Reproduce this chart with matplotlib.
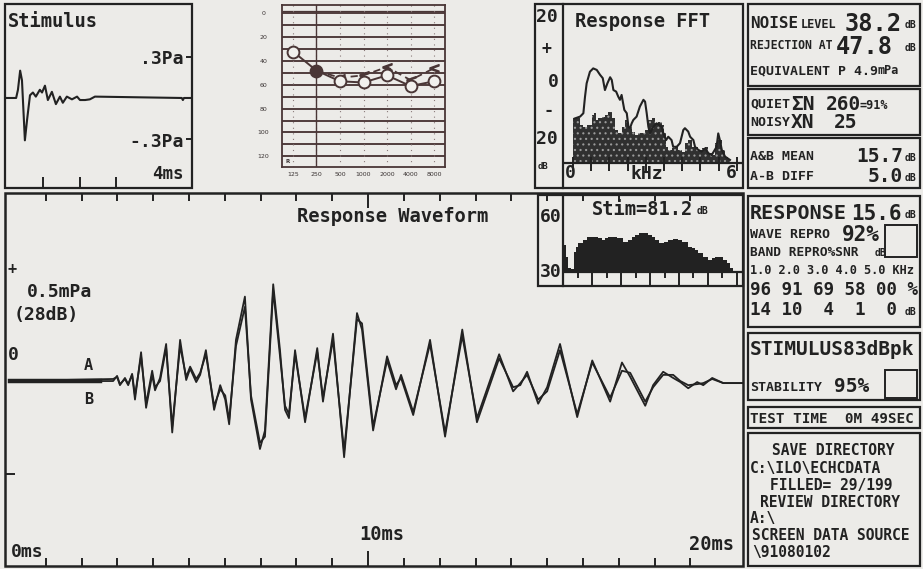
import matplotlib
matplotlib.use('Agg')
import matplotlib.pyplot as plt
import numpy as np
from matplotlib.patches import Rectangle
from matplotlib.ticker import NullLocator

# ---------------- data ----------------
# Stimulus waveform (ms, Pa)
stim_t = [0.0, 0.25, 0.30, 0.36, 0.41, 0.49, 0.55, 0.63, 0.71, 0.79, 0.90, 0.96, 1.04, 1.12, 1.23,
          1.34, 1.45, 1.53, 1.64, 1.78, 1.92, 2.00, 2.14, 2.27, 2.41, 4.79, 4.82, 4.85, 5.07]
stim_p = [0.0, 0.0, 0.06, 0.20, 0.13, -0.31, -0.16, 0.02, 0.04, 0.01, 0.06, 0.04, 0.09, -0.015, 0.045,
          -0.045, 0.01, -0.035, 0.01, -0.01, 0.01, -0.015, -0.015, -0.01, 0.01, 0.0, -0.015, 0.0, 0.0]

# Audiogram (Hz, dB HL)
aud_freqs = [125, 250, 500, 1000, 2000, 4000, 8000]
aud_labels = ['125', '250', '500', '1000', '2000', '4000', '8000']
air_db = [32, 48, 57, 58, 52, 61, 57]
bone_f = [250, 500, 1000, 2000, 4000, 8000]
bone_db = [48, 54, 52, 45, 56, 46]
aud_ylabels = [0, 20, 40, 60, 80, 100, 120]

# Response FFT (kHz, dB)
resp_f = [0.07, 0.26, 0.38, 0.44, 0.50, 0.62, 0.74, 0.87, 0.99, 1.09, 1.17, 1.26, 1.36, 1.42, 1.48,
          1.58, 1.66, 1.72, 1.78, 1.88, 1.97, 2.03, 2.09, 2.15, 2.21, 2.33, 2.45, 2.58, 2.64, 2.70,
          2.76, 2.82, 2.88, 2.94, 3.06, 3.25, 3.31, 3.41, 3.49, 3.61, 3.67, 3.80, 3.92, 4.04, 4.10,
          4.22, 4.29, 4.41, 4.47, 4.59, 4.71, 4.84, 4.96, 5.08, 5.26, 5.32, 5.38, 5.45, 5.57, 5.75]
resp_db = [-13.6, -13.0, -11.9, -6.5, -2.1, 1.7, 2.8, 2.3, 0.7, -0.4, -4.3, -2.1, -0.1, -1.0, -4.3,
           -4.8, -6.5, -7.5, -5.9, -10.8, -11.9, -16.3, -16.8, -15.2, -14.1, -13.0, -9.7, -7.5, -8.1, -11.9,
           -16.3, -18.5, -17.4, -16.3, -15.2, -16.3, -18.5, -20.7, -19.6, -20.7, -22.9, -22.9, -21.7, -17.4, -16.8,
           -17.9, -19.6, -20.7, -22.9, -23.9, -24.5, -23.4, -25.0, -25.6, -22.9, -18.5, -20.7, -23.9, -26.1, -27.2]
noise_f = [0.01, 0.20, 0.32, 0.44, 0.62, 0.74, 0.81, 0.87, 0.99, 1.11, 1.23, 1.36, 1.48, 1.60, 1.72,
           1.84, 1.97, 2.09, 2.21, 2.33, 2.45, 2.58, 2.70, 2.82, 2.94, 3.06, 3.19, 3.31, 3.37, 3.43,
           3.55, 3.67, 3.80, 3.92, 4.04, 4.16, 4.29, 4.41, 4.53, 4.65, 4.77, 4.90, 5.02, 5.14, 5.26,
           5.38, 5.51, 5.63, 5.75]
noise_db = [-13.6, -13.6, -15.7, -16.3, -15.7, -12.5, -11.9, -14.1, -13.6, -13.0, -12.5, -11.4, -13.6, -17.4, -18.5,
            -16.3, -14.1, -16.3, -17.9, -19.0, -18.5, -18.5, -17.4, -14.1, -13.6, -15.2, -14.7, -15.7, -18.5, -22.9,
            -23.9, -23.4, -22.9, -23.9, -24.5, -21.7, -20.7, -22.9, -22.9, -23.9, -23.4, -22.9, -25.0, -25.6, -21.7,
            -20.7, -23.9, -26.1, -27.2]

# Stimulus spectrum (kHz, dB)
sspec_f = [-0.39, -0.29, -0.23, -0.17, 0.01, 0.07, 0.14, 0.26, 0.44, 0.62, 0.87, 0.99, 1.11, 1.23, 1.36,
           1.54, 1.72, 1.97, 2.09, 2.21, 2.33, 2.52, 2.70, 2.82, 2.94, 3.06, 3.25, 3.43, 3.55, 3.74,
           3.92, 4.10, 4.29, 4.41, 4.53, 4.65, 4.84, 5.02, 5.14, 5.26, 5.45, 5.57, 5.69, 5.81, 5.93]
sspec_db = [44.6, 43.7, 37.3, 30.9, 30.4, 40.0, 42.7, 44.6, 46.4, 48.2, 48.2, 47.3, 46.4, 47.3, 48.2,
            48.2, 47.3, 45.5, 46.4, 48.2, 49.1, 50.0, 50.0, 49.1, 48.2, 46.4, 44.6, 45.5, 46.4, 46.8,
            46.4, 45.5, 42.7, 41.9, 40.9, 39.1, 37.3, 35.5, 36.4, 37.3, 37.3, 35.5, 33.7, 30.9, 29.1]

# Response waveform (ms, mPa), traces A and B
wave_t = [0.0, 2.88, 2.99, 3.07, 3.21, 3.30, 3.41, 3.49, 3.66, 3.80, 3.97, 4.05, 4.19, 4.36, 4.53,
          4.75, 4.92, 5.03, 5.20, 5.31, 5.47, 5.70, 5.87, 6.01, 6.12, 6.31, 6.56, 6.73, 6.98, 7.12,
          7.35, 7.54, 7.68, 7.79, 7.96, 8.24, 8.58, 8.74, 9.02, 9.33, 9.69, 9.83, 10.14, 10.53, 10.78,
          10.92, 11.26, 11.73, 12.15, 12.63, 13.04, 13.66, 14.05, 14.25, 14.44, 14.75, 15.00, 15.36, 15.84,
          16.26, 16.76, 17.09, 17.32, 17.74, 17.96, 18.24, 18.52, 18.72, 18.94, 19.19, 19.36, 19.61, 19.92, 20.47]
wave_a = [0.0, 0.01, 0.02, -0.02, 0.015, -0.015, 0.03, -0.09, 0.14, -0.13, 0.03, -0.045, 0.015, 0.18, -0.25,
          0.20, 0.005, 0.06, -0.005, 0.03, 0.15, -0.14, -0.02, -0.09, -0.21, 0.20, 0.41, -0.09, -0.33, -0.24,
          0.47, 0.15, -0.14, -0.18, 0.15, -0.20, 0.16, -0.10, 0.23, -0.37, 0.33, 0.25, -0.24, 0.12, -0.02,
          0.015, -0.165, 0.20, -0.27, 0.25, -0.20, 0.11, -0.03, -0.02, 0.045, -0.11, -0.03, 0.18, -0.175,
          0.10, -0.10, 0.09, 0.02, -0.12, -0.02, 0.045, 0.015, -0.005, -0.035, -0.005, -0.02, 0.015, -0.01, -0.01]
wave_b = [0.0, 0.0, 0.025, -0.015, 0.01, -0.02, 0.035, -0.07, 0.12, -0.11, 0.05, -0.03, 0.0, 0.16, -0.22,
          0.17, 0.02, 0.07, 0.01, 0.04, 0.13, -0.12, -0.04, -0.07, -0.19, 0.17, 0.36, -0.07, -0.30, -0.27,
          0.44, 0.12, -0.12, -0.16, 0.13, -0.18, 0.14, -0.08, 0.20, -0.34, 0.30, 0.28, -0.22, 0.10, -0.04,
          0.03, -0.15, 0.18, -0.25, 0.22, -0.18, 0.13, -0.05, -0.01, 0.03, -0.09, -0.05, 0.15, -0.16,
          0.09, -0.08, 0.05, 0.04, -0.10, -0.03, 0.03, 0.03, 0.0, -0.02, -0.015, -0.01, 0.01, -0.01, -0.01]
window_ms = [0.0, 2.5]
window_v = [0.0, 0.0]

# ---------------- figure ----------------
W, H = 923, 569
BG = '#ecebe8'
INK = '#222222'
AUD = '#4a3636'
FONT = 'DejaVu Sans Mono'
plt.rcParams['hatch.linewidth'] = 0.8

fig = plt.figure(figsize=(W / 100, H / 100), dpi=100, facecolor=BG)
ax0 = fig.add_axes([0, 0, 1, 1])
ax0.set_xlim(0, W)
ax0.set_ylim(H, 0)
ax0.axis('off')


def px_axes(x0, y0, x1, y1):
    a = fig.add_axes([x0 / W, 1 - y1 / H, (x1 - x0) / W, (y1 - y0) / H])
    a.set_facecolor('none')
    return a


def box(x0, y0, x1, y1, lw=1.6, color=INK):
    ax0.add_patch(Rectangle((x0, y0), x1 - x0, y1 - y0, fill=False, ec=color, lw=lw))


def T(x, yc, s, size, ha='left', weight='bold', color=INK, family=FONT):
    em = size * 100 / 72
    ax0.text(x, yc + 0.365 * em, s, fontsize=size, ha=ha, va='baseline',
             family=family, weight=weight, color=color)


def bare(a):
    for s in a.spines.values():
        s.set_visible(False)


# ---- Stimulus panel ----
box(5, 4, 192, 188)
axs = px_axes(5, 4, 192, 188)
axs.plot(stim_t, stim_p, color=INK, lw=1.5)
axs.set_xlim(-0.055, 5.07)
axs.set_ylim(-0.659, 0.688)
bare(axs)
axs.yaxis.tick_right()
axs.set_yticks([-0.3, 0.3])
axs.set_yticklabels([])
axs.set_xticks([1, 2, 3])
axs.set_xticklabels([])
axs.tick_params(axis='y', direction='in', length=4.5, width=1.4, color=INK)
axs.tick_params(axis='x', direction='in', length=8, width=1.4, color=INK)
T(8, 20, 'Stimulus', 13.5)
T(184, 57, '.3Pa', 13, ha='right')
T(184, 140, '-.3Pa', 13, ha='right')
T(184, 173, '4ms', 12.5, ha='right')

# ---- Audiogram ----
axa = px_axes(282, 5, 445, 167)
axa.set_xscale('log', base=2)
axa.set_xlim(125 * 2 ** -0.468, 8000 * 2 ** 0.468)
axa.set_ylim(129, -7.1)
axa.hlines(np.arange(0, 121, 10), 125 * 2 ** -0.468, 8000 * 2 ** 0.468, color=AUD, lw=1.35)
axa.hlines([-2], 125 * 2 ** -0.468, 8000 * 2 ** 0.468, color=AUD, lw=0.9)
axa.vlines(aud_freqs, -7, 129, color='#8a7a7a', lw=0.8, linestyles=(0, (1, 4)))
axa.axvline(250, color=AUD, lw=1.0)
axa.plot(bone_f, bone_db, ls=(0, (4, 2.5)), color=AUD, lw=1.3)
axa.plot(bone_f[1:], bone_db[1:], ls='none', marker='$<$', ms=6.5, color=AUD)
axa.plot(aud_freqs, air_db, '-o', color=AUD, lw=1.4, ms=8.5, mfc='#f1f0ed', mec=AUD, mew=1.4)
axa.plot(aud_freqs[1], air_db[1], 'o', color=AUD, ms=7.5)
axa.xaxis.set_minor_locator(NullLocator())
axa.set_xticks(aud_freqs)
axa.set_xticklabels(aud_labels)
axa.set_yticks(aud_ylabels)
axa.set_yticklabels([str(v) for v in aud_ylabels])
axa.tick_params(length=0, labelsize=4.5, labelcolor='#3a3333')
axa.tick_params(axis='y', pad=13.5)
axa.tick_params(axis='x', pad=3.5)
for lab in axa.get_yticklabels():
    lab.set_ha('center')
for s in axa.spines.values():
    s.set_color(AUD)
    s.set_linewidth(1.3)
ax0.text(285, 163, 'R', fontsize=4, color='#3a3333', weight='bold')

# ---- Response FFT ----
box(535, 4, 743, 188)
axf = px_axes(563, 4, 743, 188)
axf.set_xlim(-0.366, 6.227)
axf.set_ylim(-36.4, 23.9)
axf.fill_between(noise_f, noise_db, -28.2, step='mid', facecolor='#303030',
                 hatch='...', edgecolor='#9a9a9a', lw=0)
axf.plot(resp_f, resp_db, color=INK, lw=1.5)
axf.axhline(-28.2, color=INK, lw=1.6)
axf.vlines(np.linspace(0, 6, 10), -30.8, -26.4, color=INK, lw=1.4)
bare(axf)
axf.spines['left'].set_visible(True)
axf.spines['left'].set_linewidth(1.6)
axf.spines['left'].set_color(INK)
axf.set_xticks([])
axf.set_yticks([])
T(575, 20, 'Response FFT', 13.5)
T(536, 15, '20', 13)
T(542, 48, '+', 12)
T(548, 80, '0', 13)
T(543, 110, '-', 12)
T(536, 137, '20', 13)
T(538, 166, 'dB', 6.5)
T(565, 171, '0', 13)
T(647, 172, 'kHz', 13, ha='center')
T(726, 171, '6', 13)

# ---- Response waveform ----
box(5, 193, 743, 566, lw=1.8)
axw = px_axes(5, 193, 743, 566)
axw.set_xlim(-0.14, 20.47)
axw.set_ylim(-0.898, 0.913)
axw.plot(window_ms, window_v, color=INK, lw=3.2)
axw.plot(wave_t, wave_b, color=INK, lw=1.3)
axw.plot(wave_t, wave_a, color=INK, lw=1.3)
bare(axw)
axw.set_xticks([10])
axw.set_xticks([m for m in range(1, 20) if m != 10], minor=True)
axw.set_xticklabels([])
axw.set_yticks([-0.45])
axw.set_yticklabels([])
axw.tick_params(axis='x', which='both', direction='in', top=True, bottom=True, width=1.4, color=INK)
axw.tick_params(axis='x', which='major', length=11)
axw.tick_params(axis='x', which='minor', length=6)
axw.tick_params(axis='y', direction='in', length=7, width=1.4, color=INK)
T(297, 215, 'Response Waveform', 13.5)
T(7, 268, '+', 11)
T(27, 290, '0.5mPa', 13)
T(14, 313, '(28dB)', 13)
T(8, 353, '0', 13)
T(84, 364, 'A', 11)
T(84, 398, 'B', 11)
T(359, 533, '10ms', 13.5)
T(11, 550, '0ms', 13)
T(689, 543, '20ms', 13.5)

# ---- Stimulus spectrum inset ----
ax0.add_patch(Rectangle((538, 195), 205, 91, fc=BG, ec='none', zorder=0))
box(538, 195, 743, 286)
axi = px_axes(563, 195, 743, 286)
axi.set_xlim(-0.366, 6.227)
axi.set_ylim(21.26, 70.98)
axi.fill_between(sspec_f, sspec_db, 28.9, step='mid', color=INK, lw=0)
axi.axhline(28.9, color=INK, lw=1.6)
tk = np.linspace(0.18, 6.0, 12)
axi.vlines(tk[0::2], 25.6, 28.9, color=INK, lw=1.4)
axi.vlines(tk[1::2], 21.3, 28.9, color=INK, lw=1.4)
bare(axi)
axi.spines['left'].set_visible(True)
axi.spines['left'].set_linewidth(1.6)
axi.spines['left'].set_color(INK)
axi.set_xticks([])
axi.set_yticks([])
T(592, 208, 'Stim=81.2', 13.5)
T(697, 210, 'dB', 7)
T(540, 215, '60', 13)
T(540, 270, '30', 13)

# ---- Right-hand information panels ----
box(748, 4, 920, 86)
T(750, 22, 'NOISE', 11.5)
T(801, 24, 'LEVEL', 8.6)
T(845, 22, '38.2', 17)
T(905, 24, 'dB', 7)
T(750, 45, 'REJECTION AT', 8.3)
T(836, 45, '47.8', 17)
T(905, 47, 'dB', 7)
T(750, 70, 'EQUIVALENT P 4.9', 9.5)
T(877, 70, 'mPa', 8.5)

box(748, 89, 920, 135)
T(750, 103, 'QUIET', 9.5)
T(791, 103, 'ΣN', 14)
T(826, 103, '260', 14)
T(860, 105, '=91%', 8.5)
T(750, 121, 'NOISY', 9.5)
T(791, 121, 'XN', 14)
T(834, 121, '25', 14)

box(748, 138, 920, 188)
T(750, 155, 'A&B MEAN', 9.5)
T(856, 155, '15.7', 14)
T(905, 157, 'dB', 7)
T(750, 175, 'A-B DIFF', 9.5)
T(868, 175, '5.0', 14)
T(905, 177, 'dB', 7)

box(748, 196, 920, 327)
T(750, 212, 'RESPONSE', 14.5)
T(851, 212, '15.6', 15)
T(905, 214, 'dB', 7)
T(750, 233, 'WAVE REPRO', 9.5)
T(842, 233, '92%', 15)
box(885, 225, 917, 257, lw=1.4)
T(750, 251, 'BAND REPRO%SNR', 9.3)
T(875, 252, 'dB', 7)
T(750, 270, '1.0 2.0 3.0 4.0 5.0 KHz', 8.6)
T(750, 289, '96 91 69 58 00 %', 12.6)
T(750, 309, '14 10  4  1  0', 12.6)
T(905, 311, 'dB', 7)

box(748, 333, 920, 400)
T(750, 348, 'STIMULUS83dBpk', 14)
T(750, 386, 'STABILITY', 9.5)
T(834, 385, '95%', 14)
box(885, 370, 917, 398, lw=1.4)

box(748, 407, 920, 428)
T(750, 418, 'TEST TIME  0M 49SEC', 10.3)

box(748, 433, 920, 566)
T(772, 450, 'SAVE DIRECTORY', 10.5)
T(750, 468, 'C:\\ILO\\ECHCDATA', 10.5)
T(770, 485, 'FILLED= 29/199', 10.5)
T(760, 502, 'REVIEW DIRECTORY', 10.5)
T(750, 518, 'A:\\', 10.5)
T(752, 535, 'SCREEN DATA SOURCE', 10.5)
T(752, 552, '\\91080102', 10.5)

fig.savefig('out.png', dpi=100, facecolor=BG)
